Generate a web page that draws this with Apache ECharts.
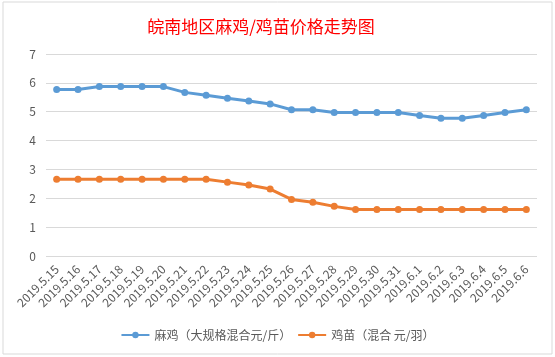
<!DOCTYPE html>
<html><head><meta charset="utf-8">
<script src="https://cdn.jsdelivr.net/npm/echarts@6/dist/echarts.min.js"></script>
<style>html,body{margin:0;padding:0;background:#fff}#c{width:555px;height:357px}</style>
</head><body><div id="c"></div>
<script>
var categories = ['2019.5.15','2019.5.16','2019.5.17','2019.5.18','2019.5.19','2019.5.20','2019.5.21','2019.5.22','2019.5.23','2019.5.24','2019.5.25','2019.5.26','2019.5.27','2019.5.28','2019.5.29','2019.5.30','2019.5.31','2019.6.1','2019.6.2','2019.6.3','2019.6.4','2019.6.5','2019.6.6'];
var maji = [5.77,5.77,5.87,5.87,5.87,5.87,5.67,5.57,5.47,5.37,5.27,5.07,5.07,4.97,4.97,4.97,4.97,4.87,4.77,4.77,4.87,4.97,5.07];
var jimiao = [2.66,2.66,2.66,2.66,2.66,2.66,2.66,2.66,2.56,2.46,2.32,1.96,1.86,1.72,1.61,1.61,1.61,1.61,1.61,1.61,1.61,1.61,1.61];
var seriesNames = ['麻鸡（大规格混合元/斤）','鸡苗（混合 元/羽）'];
var titleText = '皖南地区麻鸡/鸡苗价格走势图';
var font = '"Noto Sans CJK SC", "Noto Sans", sans-serif';
var chart = echarts.init(document.getElementById('c'), null, {renderer:'canvas'});
chart.setOption({
  animation:false,
  backgroundColor:'#fff',
  textStyle:{fontFamily:font},
  graphic:[{type:'rect',shape:{x:3,y:2,width:549,height:352},style:{fill:'none',stroke:'#D9D9D9',lineWidth:1},silent:true}],
  title:{text:titleText,left:256,textAlign:'center',top:13,textStyle:{color:'#FF0000',fontSize:17,fontWeight:'normal',fontFamily:font}},
  grid:{left:46,right:18,top:54,bottom:101},
  legend:{bottom:11,left:'center',itemWidth:28,itemHeight:8,itemGap:6,
    textStyle:{color:'#595959',fontSize:12,fontFamily:font},
    data:seriesNames},
  xAxis:{type:'category',data:categories,boundaryGap:true,
    axisLine:{show:false},axisTick:{show:false},
    axisLabel:{rotate:45,color:'#595959',fontSize:12,margin:11,interval:0,fontFamily:font}},
  yAxis:{type:'value',min:0,max:7,interval:1,
    axisLine:{show:false},axisTick:{show:false},
    splitLine:{lineStyle:{color:'#D9D9D9',width:1}},
    axisLabel:{color:'#595959',fontSize:12,margin:10,fontFamily:font}},
  series:[
    {name:seriesNames[0],type:'line',data:maji,symbol:'circle',symbolSize:7,
      lineStyle:{color:'#5B9BD5',width:3},itemStyle:{color:'#5B9BD5'}},
    {name:seriesNames[1],type:'line',data:jimiao,symbol:'circle',symbolSize:7,
      lineStyle:{color:'#ED7D31',width:3},itemStyle:{color:'#ED7D31'}}
  ]
});
</script></body></html>
